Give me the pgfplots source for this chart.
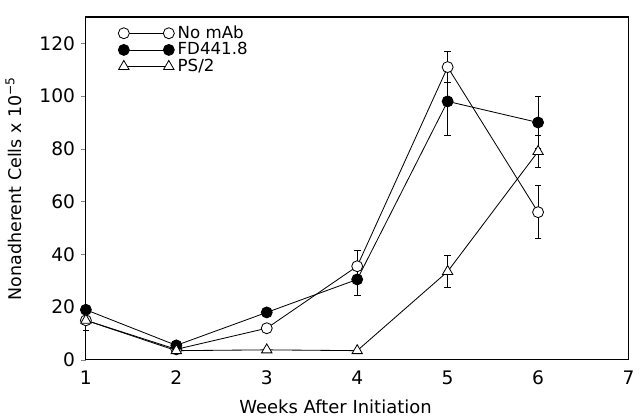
\documentclass[border=0pt]{standalone}
\usepackage{fontspec}
\setmainfont{DejaVu Sans}
\usepackage{pgfplots}
\pgfplotsset{compat=1.18}
\begin{document}
\begin{tikzpicture}
\begin{axis}[
  scale only axis,
  width=326pt, height=206pt,
  xmin=1, xmax=7, ymin=0, ymax=130,
  xtick={1,2,3,4,5,6,7},
  ytick={0,20,40,60,80,100,120},
  ytick pos=left,
  tick align=outside,
  xtick style={draw=none},
  major tick length=3pt,
  /pgf/number format/assume math mode=true,
  tick label style={font=\fontsize{11.2}{13}\selectfont},
  title={\rule{0pt}{4pt}},
  title style={inner sep=0pt},
  xlabel={Weeks After Initiation},
  ylabel={Nonadherent Cells x 10\textsuperscript{−5}},
  xlabel style={font=\fontsize{10.8}{13}\selectfont, yshift=-2pt, xshift=-13pt},
  ylabel style={font=\fontsize{10.5}{13}\selectfont, yshift=4pt},
  clip=false,
  axis line style={line width=0.7pt},
  cycle list={{black}},
  error bars/error bar style={line width=0.6pt, black},
  error bars/error mark options={rotate=90, mark size=2pt, line width=0.6pt, black},
  legend style={draw=none, fill=none, at={(0.05,0.995)}, anchor=north west, font=\normalsize, row sep=-3pt},
  legend cell align=left,
  legend image code/.code={\draw[#1] plot coordinates {(0cm,0cm) (0.95cm,0cm)};},
]
\addplot[black, line width=0.5pt, mark=*, mark size=3.3pt, mark options={fill=white, draw=black, solid}, error bars/.cd, y dir=both, y explicit]
  coordinates {(1,15) +- (0,4) (2,4) +- (0,0) (3,12) +- (0,0) (4,35.5) +- (0,6) (5,111) +- (0,6) (6,56) +- (0,10)};
\addlegendentry{No mAb}
\addplot[black, line width=0.5pt, mark=*, mark size=3.3pt, mark options={fill=black, draw=black, solid}, error bars/.cd, y dir=both, y explicit]
  coordinates {(1,19) +- (0,0) (2,5.5) +- (0,0) (3,18) +- (0,0) (4,30.5) +- (0,6) (5,98) +- (0,13) (6,90) +- (0,10)};
\addlegendentry{FD441.8}
\addplot[black, line width=0.5pt, mark=triangle*, mark size=3.6pt, mark options={fill=white, draw=black, solid}, error bars/.cd, y dir=both, y explicit]
  coordinates {(1,15) +- (0,0) (2,3.5) +- (0,0) (3,3.8) +- (0,0) (4,3.5) +- (0,0) (5,33.5) +- (0,6) (6,79) +- (0,6)};
\addlegendentry{PS/2}
\end{axis}
\end{tikzpicture}
\end{document}
